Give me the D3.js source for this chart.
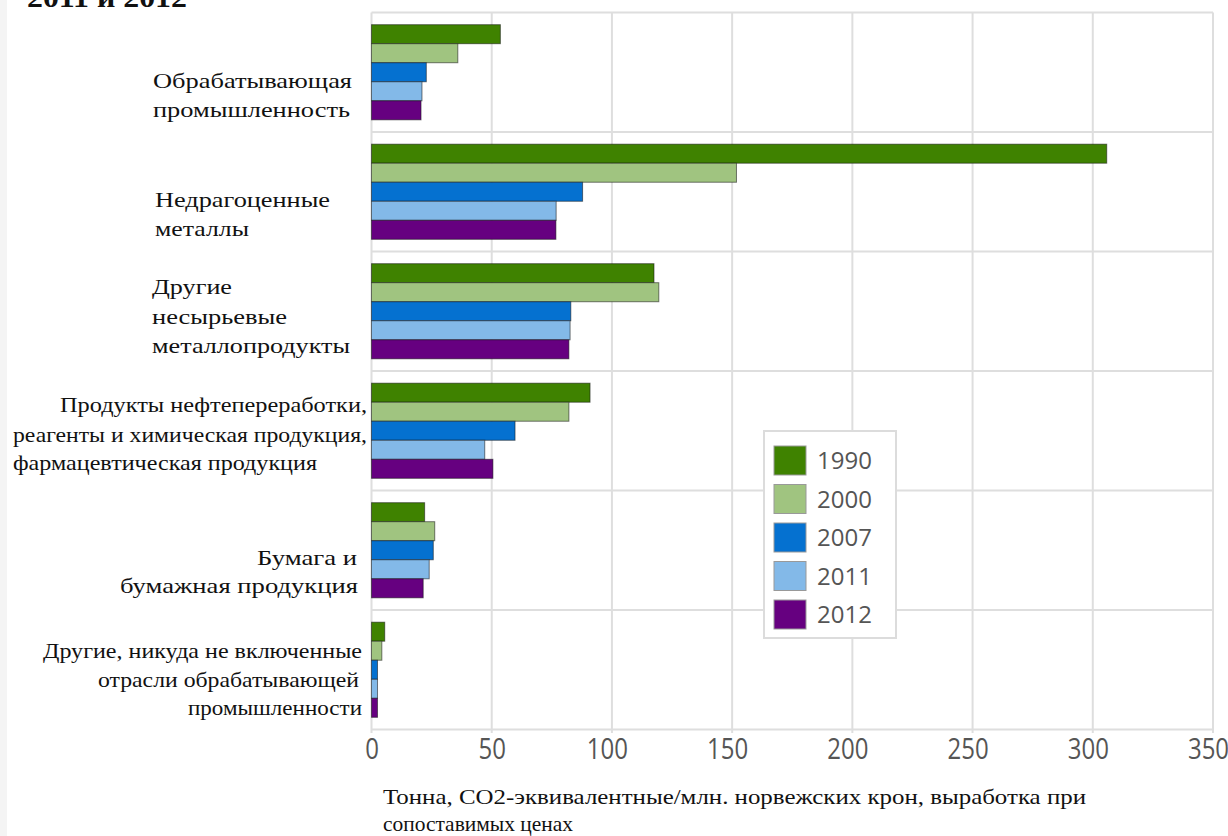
<!DOCTYPE html>
<html><head><meta charset="utf-8">
<script src="https://cdn.jsdelivr.net/npm/d3@7"></script>
<style>
body{margin:0;background:#fff;} svg{display:block;}
.serif{font-family:"Liberation Serif","Times New Roman",serif;}
.sans{font-family:"Open Sans","Noto Sans",sans-serif;}
</style>
</head><body>
<svg id="chart" width="1228" height="836"></svg>
<script>
const categories = [
  "Обрабатывающая промышленность",
  "Недрагоценные металлы",
  "Другие несырьевые металлопродукты",
  "Продукты нефтепереработки, реагенты и химическая продукция, фармацевтическая продукция",
  "Бумага и бумажная продукция",
  "Другие, никуда не включенные отрасли обрабатывающей промышленности"
];
const years = ["1990", "2000", "2007", "2011", "2012"];
const v1990 = [53.6, 305.8, 117.5, 90.9, 22.1, 5.5];
const v2000 = [35.9, 151.8, 119.5, 82.1, 26.3, 4.3];
const v2007 = [22.8, 87.8, 82.9, 59.7, 25.7, 2.5];
const v2011 = [21.0, 76.8, 82.6, 47.1, 24.0, 2.5];
const v2012 = [20.6, 76.7, 82.1, 50.5, 21.5, 2.5];
const xTicks = [0, 50, 100, 150, 200, 250, 300, 350];
const colors = ["#3f8200", "#a0c480", "#0571d0", "#83b9e8", "#660080"];
const labelLines = [
  [["Обрабатывающая", "start", 153, 199], ["промышленность", "start", 153, 197]],
  [["Недрагоценные", "start", 155, 175], ["металлы", "start", 155, 94]],
  [["Другие", "start", 152, 80], ["несырьевые", "start", 152, 135], ["металлопродукты", "start", 152, 198]],
  [["Продукты нефтепереработки,", "end", 367, 307], ["реагенты и химическая продукция,", "end", 367, 354], ["фармацевтическая продукция", "start", 13, 304]],
  [["Бумага и", "end", 357, 100], ["бумажная продукция", "end", 358, 238]],
  [["Другие, никуда не включенные", "end", 362, 319], ["отрасли обрабатывающей", "end", 359, 261], ["промышленности", "end", 362, 174]]
];
const title = "2011 и 2012";
const axisTitle = ["Тонна, СО2-эквивалентные/млн. норвежских крон, выработка при", "сопоставимых ценах"];
const axisTitleWidths = [703, 190];

const series = [v1990, v2000, v2007, v2011, v2012];
const svg = d3.select("#chart");
const x = d3.scaleLinear().domain([0, 350]).range([371.5, 1213]);
const y = d3.scaleBand().domain(categories).range([12.5, 729.5]).paddingInner(0).paddingOuter(0);
const ySub = d3.scaleBand().domain(years).range([0, y.bandwidth()]).paddingInner(0).paddingOuter(0.64);

svg.append("rect").attr("x", 0).attr("y", 0).attr("width", 7).attr("height", 836).attr("fill", "#f4f4f4");

const grid = svg.append("g");
grid.selectAll("line.v").data(xTicks).join("line").attr("class", "v")
  .attr("x1", d => x(d)).attr("x2", d => x(d)).attr("y1", y.range()[0]).attr("y2", 733)
  .attr("stroke", "#dedede").attr("stroke-width", 2);
const hb = categories.map(c => y(c)).concat([y.range()[1]]);
grid.selectAll("line.h").data(hb).join("line").attr("class", "h")
  .attr("x1", x(0)).attr("x2", x(350)).attr("y1", d => d).attr("y2", d => d)
  .attr("stroke", "#dedede").attr("stroke-width", 2);

const groups = svg.append("g").selectAll("g").data(categories).join("g")
  .attr("transform", c => `translate(0,${y(c)})`);
groups.selectAll("rect").data((c, i) => years.map((yr, j) => ({yr, j, v: series[j][i]})))
  .join("rect")
  .attr("x", x(0))
  .attr("y", d => ySub(d.yr))
  .attr("width", d => x(d.v) - x(0))
  .attr("height", ySub.bandwidth())
  .attr("fill", d => colors[d.j])
  .attr("stroke", "rgba(20,20,20,0.55)").attr("stroke-width", 1);

const lab = svg.append("g").attr("class", "serif").attr("font-size", 21).attr("fill", "#111");
const labBase = [[87.7, 116.7], [206.7, 235.7], [294, 324, 353], [411.7, 441.7, 470], [565, 593.3], [658, 686.7, 715]];
categories.forEach((c, i) => {
  labelLines[i].forEach((ln, k) => {
    lab.append("text").attr("x", ln[2]).attr("y", labBase[i][k]).attr("text-anchor", ln[1])
      .style("font-family", '"Liberation Serif", serif')
      .attr("textLength", ln[3]).attr("lengthAdjust", "spacingAndGlyphs").text(ln[0]);
  });
});

const axis = d3.axisBottom(x).tickValues(xTicks).tickSize(0).tickPadding(0);
const ax = svg.append("g").attr("transform", "translate(0,739)").call(axis);
ax.select(".domain").remove();
ax.selectAll("text").attr("class", "sans").attr("font-family", null).attr("font-size", 24)
  .attr("fill", "#555").attr("dy", "0.71em")
  .attr("dx", d => d >= 100 ? -5 : 0);
ax.selectAll(".tick text").attr("transform", "scale(1,1.2)").attr("y", 0);

const at = svg.append("g").attr("class", "serif").attr("font-size", 21).attr("fill", "#111");
axisTitle.forEach((t, k) => at.append("text").attr("x", 383).attr("y", 804 + k * 27)
  .style("font-family", '"Liberation Serif", serif')
  .attr("textLength", axisTitleWidths[k]).attr("lengthAdjust", "spacingAndGlyphs").text(t));

svg.append("text").attr("class", "serif").attr("x", 27).attr("y", 7)
  .style("font-family", '"Liberation Serif", serif')
  .attr("font-weight", "bold").attr("font-size", 27).attr("fill", "#111")
  .attr("textLength", 160).attr("lengthAdjust", "spacingAndGlyphs").text(title);

const leg = svg.append("g");
leg.append("rect").attr("x", 764).attr("y", 431).attr("width", 132).attr("height", 207)
  .attr("fill", "#fff").attr("stroke", "#dcdcdc").attr("stroke-width", 2);
const ly = d3.scalePoint().domain(years).range([446, 600]);
const li = leg.selectAll("g.item").data(years).join("g").attr("class", "item")
  .attr("transform", d => `translate(774,${ly(d)})`);
li.append("rect").attr("width", 32).attr("height", 29).attr("fill", (d, i) => colors[i])
  .attr("stroke", "#999").attr("stroke-width", 1);
li.append("text").attr("class", "sans").attr("x", 43).attr("y", 14.5).attr("dy", "0.36em")
  .attr("font-size", 24).attr("fill", "#555").text(d => d);
</script>
</body></html>
